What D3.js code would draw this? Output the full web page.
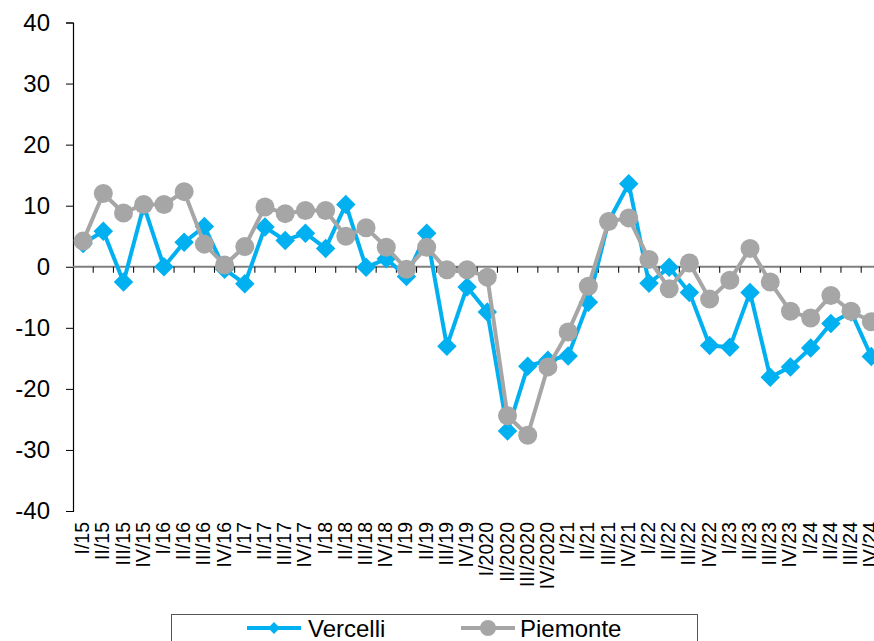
<!DOCTYPE html>
<html><head><meta charset="utf-8">
<script src="https://cdn.jsdelivr.net/npm/d3@7"></script>
<style>body{margin:0;background:#fff;overflow:hidden}svg{display:block;font-family:Arial,"Liberation Sans",sans-serif}</style>
</head><body><svg id="c" width="874" height="641"></svg>
<script>
const categories = ["I/15","II/15","III/15","IV/15","I/16","II/16","III/16","IV/16","I/17","II/17","III/17","IV/17","I/18","II/18","III/18","IV/18","I/19","II/19","III/19","IV/19","I/2020","II/2020","III/2020","IV/2020","I/21","II/21","III/21","IV/21","I/22","II/22","III/22","IV/22","I/23","II/23","III/23","IV/23","I/24","II/24","III/24","IV/24"];
const vercelli = [3.8,5.8,-2.5,10,0,4,6.6,-0.4,-2.8,6.5,4.3,5.5,3,10.2,-0.1,1.3,-1.6,5.5,-13,-3.3,-7.4,-26.9,-16.3,-15.3,-14.6,-5.8,7.4,13.6,-2.7,-0.1,-4.2,-12.9,-13.2,-4.2,-18.1,-16.4,-13.3,-9.3,-7.4,-14.7];
const piemonte = [4.2,12,8.8,10.2,10.2,12.3,3.7,0.3,3.3,9.8,8.7,9.2,9.2,5,6.4,3.2,-0.4,3.2,-0.5,-0.5,-1.7,-24.4,-27.6,-16.4,-10.7,-3.2,7.4,8,1.2,-3.6,0.6,-5.3,-2.2,3,-2.5,-7.3,-8.4,-4.7,-7.3,-9];
const yTicks = [-40,-30,-20,-10,0,10,20,30,40];
const seriesNames = ["Vercelli","Piemonte"];
const colors = ["#00B0F0","#A6A6A6"];

const svg = d3.select("#c");
const x0 = 73, x1 = 73 + 40*20.21;
const x = d3.scaleBand().domain(categories).range([x0, x1]);
const y = d3.scaleLinear().domain([-40,40]).range([511, 22.5]);

// Y axis
const yAxis = svg.append("g").attr("transform",`translate(${x0},0)`)
  .call(d3.axisLeft(y).tickValues(yTicks).tickSize(7).tickPadding(16).tickFormat(d=>String(d)));
yAxis.select(".domain").attr("stroke","#000").attr("stroke-width",1.2);
yAxis.selectAll(".tick line").attr("stroke","#000");
yAxis.selectAll("text").attr("font-size",24).attr("fill","#000").attr("font-family","Arial, 'Liberation Sans', sans-serif");

// X axis at 0
const ticksX = d3.range(0,41).map(i => x0 + i*x.step());
const xg = svg.append("g");
xg.append("line").attr("x1",x0).attr("x2",x1).attr("y1",y(0)).attr("y2",y(0)).attr("stroke","#7f7f7f").attr("stroke-width",2);
xg.selectAll("line.t").data(ticksX.slice(1)).join("line").attr("class","t")
  .attr("x1",d=>d).attr("x2",d=>d).attr("y1",y(0)).attr("y2",y(0)+6).attr("stroke","#000").attr("stroke-width",1);

// X labels
svg.append("g").selectAll("text").data(categories).join("text")
  .attr("transform",d=>`translate(${x(d)+x.bandwidth()/2-1},${522}) rotate(-90)`)
  .attr("text-anchor","end").attr("dy","0.36em")
  .attr("font-size",19.5).attr("fill","#000").text(d=>d);

// series
const data = [vercelli, piemonte];
const line = d3.line().x((d,i)=>x(categories[i])+x.bandwidth()/2).y(d=>y(d));
data.forEach((vals,si)=>{
  const g = svg.append("g");
  g.append("path").datum(vals).attr("d",line).attr("fill","none").attr("stroke",colors[si]).attr("stroke-width",4).attr("stroke-linejoin","round");
  if(si===0){
    g.selectAll("path.m").data(vals).join("path").attr("class","m")
      .attr("d",d3.symbol(d3.symbolSquare,190)())
      .attr("transform",(d,i)=>`translate(${x(categories[i])+x.bandwidth()/2},${y(d)}) rotate(45)`)
      .attr("fill",colors[si]);
  } else {
    g.selectAll("circle").data(vals).join("circle")
      .attr("cx",(d,i)=>x(categories[i])+x.bandwidth()/2).attr("cy",d=>y(d)).attr("r",9.5)
      .attr("fill",colors[si]);
  }
});

// legend
const lg = svg.append("g");
lg.append("rect").attr("x",171.5).attr("y",614.5).attr("width",526).attr("height",40).attr("fill","#fff").attr("stroke","#555").attr("stroke-width",1);
const legItems = [{lx:247,tx:308},{lx:461,tx:520}];
seriesNames.forEach((n,i)=>{
  const it = legItems[i], ly = 628;
  lg.append("line").attr("x1",it.lx).attr("x2",it.lx+54).attr("y1",ly).attr("y2",ly).attr("stroke",colors[i]).attr("stroke-width",4);
  if(i===0){
    lg.append("path").attr("d",d3.symbol(d3.symbolSquare,70)()).attr("transform",`translate(${it.lx+27},${ly}) rotate(45)`).attr("fill",colors[i]);
  } else {
    lg.append("circle").attr("cx",it.lx+27).attr("cy",ly).attr("r",8).attr("fill",colors[i]);
  }
  lg.append("text").attr("x",it.tx).attr("y",ly).attr("dy","0.36em").attr("font-size",24).attr("fill","#000").text(n);
});
</script></body></html>
